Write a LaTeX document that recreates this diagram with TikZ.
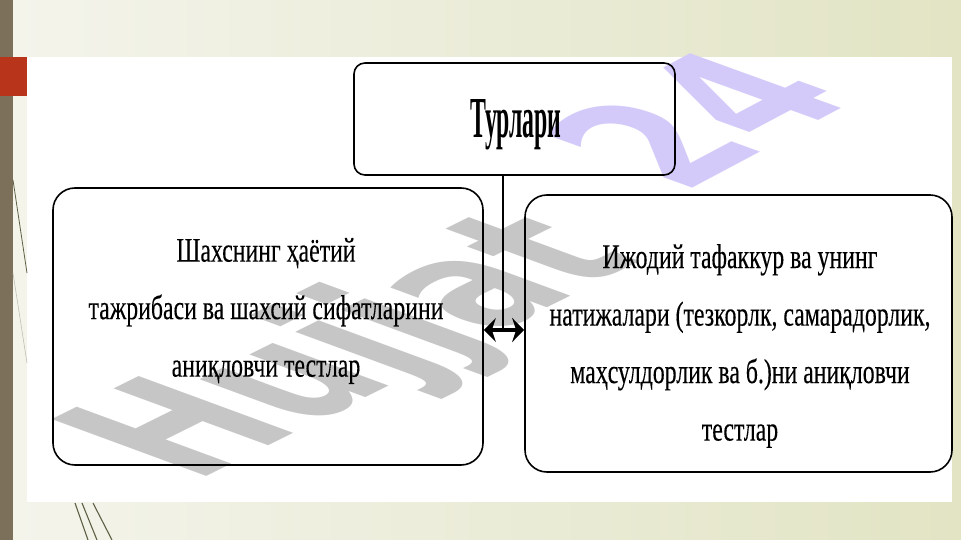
\documentclass[tikz,border=0pt]{standalone}
\usepackage{fontspec}
\setmainfont{Liberation Serif}
\newfontfamily\condfont[FakeStretch=0.69,FakeBold=0.2]{Liberation Serif}
\newfontfamily\titlefont[FakeStretch=0.41]{Liberation Serif}
\newfontfamily\wmfont{DejaVu Sans}
\usetikzlibrary{arrows.meta}
\definecolor{bgleft}{RGB}{244,244,236}
\definecolor{bgright}{RGB}{226,228,196}
\definecolor{barcol}{RGB}{125,112,90}
\definecolor{redsq}{RGB}{184,52,26}
\definecolor{wmgray}{RGB}{198,198,198}
\definecolor{wmlav}{RGB}{212,202,250}
\definecolor{decor}{RGB}{95,95,70}
\tikzset{
  box/.style={draw=black, line width=1.6pt, rounded corners=22pt, inner sep=0pt},
  tbox/.style={draw=black, line width=1.6pt, rounded corners=11pt, inner sep=0pt},
  txt/.style={font=\condfont\fontsize{34.5}{57.5}\selectfont, align=center, inner sep=0pt},
  ttl/.style={font=\titlefont\bfseries\fontsize{58}{60}\selectfont, inner sep=0pt},
  wm/.style={font=\wmfont\bfseries\fontsize{100}{100}\selectfont, inner sep=0pt, transform shape},
  conn/.style={line width=2pt},
  dbl/.style={line width=3.5pt, {Stealth[length=12pt,width=24pt]}-{Stealth[length=12pt,width=24pt]}}
}
\begin{document}
\begin{tikzpicture}[x=1pt,y=-1pt]
\useasboundingbox (0,0) rectangle (961,540);
% slide background
\shade[left color=bgleft, right color=bgright] (0,0) rectangle (961,540);
\fill[barcol] (0,0) rectangle (13,540);
\fill[white] (27,57) rectangle (952,502);
\fill[redsq] (0,57) rectangle (27,96);
\draw[decor, line width=0.8pt] (13,180) -- (27,273);
\draw[decor!40, line width=0.6pt] (13,273) -- (27,363);
\draw[decor, line width=1.1pt] (75,503) -- (88,540);
\draw[decor, line width=1.1pt] (82,503) -- (97,540);
\draw[decor, line width=1.1pt] (93,503) -- (112,540);
% watermark
\node[wm, text=wmgray, cm={1.33,0.66,-2.12,0.78,(0,0)}] (wmh) at (362,350) {Hujjat};
\node[wm, text=wmlav, cm={1.28,0.68,-2.07,0.75,(0,0)}] (wmn) at (695,118) {24};
% diagram
\node[tbox, minimum width=321pt, minimum height=112pt] (top) at (514.5,119) {};
\node[ttl] (title) at (516,125) {Турлари};
\node[box, minimum width=430pt, minimum height=277pt] (left) at (268,326.5) {};
\node[box, minimum width=427pt, minimum height=277pt] (right) at (738.5,333.5) {};
\node[txt] (lt) at (266,311) {Шахснинг ҳаётий\\тажрибаси ва шахсий сифатларини\\аниқловчи тестлар};
\node[txt] (rt) at (740,346) {Ижодий тафаккур ва унинг\\натижалари (тезкорлк, самарадорлик,\\маҳсулдорлик ва б.)ни аниқловчи\\тестлар};
\coordinate (mid) at (503,330);
\draw[conn] (top.south -| mid) -- (mid);
\draw[dbl] (left.east |- mid) -- (right.west |- mid);
\end{tikzpicture}
\end{document}
